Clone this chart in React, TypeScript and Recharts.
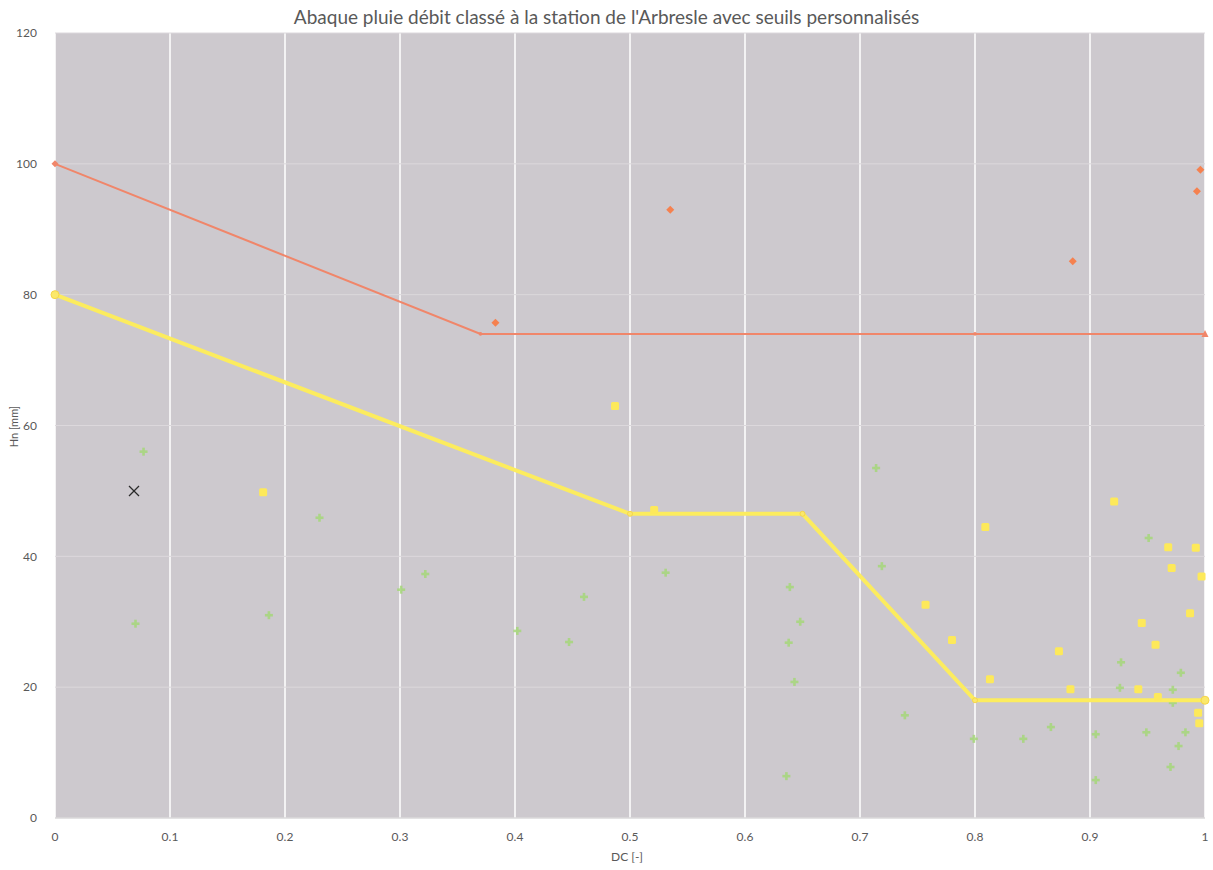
import React from "react";
import {
  ComposedChart,
  Scatter,
  XAxis,
  YAxis,
  ZAxis,
  CartesianGrid,
} from "recharts";

// axes
const dcTicks = [0, 0.1, 0.2, 0.3, 0.4, 0.5, 0.6, 0.7, 0.8, 0.9, 1];
const hnTicks = [0, 20, 40, 60, 80, 100, 120];

// seuil haut (orange)
const seuilHautDc = [0, 0.37, 0.8, 1];
const seuilHautHn = [100, 74, 74, 74];

// seuil bas (jaune)
const seuilBasDc = [0, 0.5, 0.65, 0.8, 1];
const seuilBasHn = [80, 46.5, 46.5, 18, 18];

// événements au-dessus du seuil haut
const hautDc = [0.383, 0.535, 0.885, 0.996, 0.993];
const hautHn = [75.7, 93.0, 85.1, 99.1, 95.8];

// événements entre les seuils
const moyenDc = [
  0.181, 0.487, 0.521, 0.757, 0.78, 0.809, 0.813, 0.873, 0.883, 0.921, 0.968,
  0.992, 0.971, 0.997, 0.987, 0.945, 0.957, 0.942, 0.959, 0.994, 0.995,
];
const moyenHn = [
  49.8, 63.0, 47.1, 32.6, 27.2, 44.5, 21.2, 25.5, 19.7, 48.4, 41.4, 41.3, 38.2,
  36.9, 31.3, 29.8, 26.5, 19.7, 18.5, 16.1, 14.5,
];

// événements sous le seuil bas
const basDc = [
  0.077, 0.07, 0.186, 0.23, 0.301, 0.322, 0.402, 0.447, 0.46, 0.531, 0.639,
  0.638, 0.648, 0.643, 0.636, 0.714, 0.719, 0.739, 0.799, 0.842, 0.866, 0.905,
  0.905, 0.927, 0.926, 0.951, 0.949, 0.97, 0.979, 0.972, 0.972, 0.983, 0.977,
];
const basHn = [
  56.0, 29.7, 31.0, 45.9, 34.9, 37.3, 28.6, 26.9, 33.8, 37.5, 35.3, 26.8, 30.0,
  20.8, 6.4, 53.5, 38.5, 15.7, 12.1, 12.1, 13.9, 12.8, 5.8, 23.8, 19.9, 42.8,
  13.1, 7.8, 22.2, 19.6, 17.6, 13.1, 11.0,
];

// événement étudié
const evenementDc = [0.0687];
const evenementHn = [50.0];

const toPoints = (xs: number[], ys: number[]) =>
  xs.map((x, i) => ({ x, y: ys[i] }));

const seuilHaut = toPoints(seuilHautDc, seuilHautHn);
const seuilBas = toPoints(seuilBasDc, seuilBasHn);
const haut = toPoints(hautDc, hautHn);
const moyen = toPoints(moyenDc, moyenHn);
const bas = toPoints(basDc, basHn);
const evenement = toPoints(evenementDc, evenementHn);

const FONT = "Lato, 'Open Sans', sans-serif";
const GREY = "#595959";

const HautVertex = (props: any) => {
  const { cx, cy, payload } = props;
  if (cx == null || cy == null) return null;
  if (payload.x === seuilHautDc[0]) {
    return <path d={`M${cx},${cy - 3.5} L${cx + 3.5},${cy} L${cx},${cy + 3.5} L${cx - 3.5},${cy} Z`} fill="#f0866a" />;
  }
  if (payload.x === seuilHautDc[seuilHautDc.length - 1]) {
    return <path d={`M${cx},${cy - 4} L${cx + 3.5},${cy + 3} L${cx - 3.5},${cy + 3} Z`} fill="#f0866a" />;
  }
  return <circle cx={cx} cy={cy} r={1.8} fill="#f0866a" />;
};

const BasVertex = (props: any) => {
  const { cx, cy, payload } = props;
  if (cx == null || cy == null) return null;
  const ends = payload.x === seuilBasDc[0] || payload.x === seuilBasDc[seuilBasDc.length - 1];
  return (
    <circle
      cx={cx}
      cy={cy}
      r={ends ? 4 : 2.5}
      fill="#fbe86a"
      stroke="#f5d54a"
      strokeWidth={1}
    />
  );
};

const Diamond = (props: any) => {
  const { cx, cy } = props;
  if (cx == null || cy == null) return null;
  return <path d={`M${cx},${cy - 4} L${cx + 4},${cy} L${cx},${cy + 4} L${cx - 4},${cy} Z`} fill="#f5814f" />;
};

const Square = (props: any) => {
  const { cx, cy } = props;
  if (cx == null || cy == null) return null;
  return <rect x={cx - 4} y={cy - 4} width={8} height={8} rx={1.5} fill="#fde95a" />;
};

const Plus = (props: any) => {
  const { cx, cy } = props;
  if (cx == null || cy == null) return null;
  return (
    <g fill="#a6d87a" opacity={0.85}>
      <rect x={cx - 4} y={cy - 1.3} width={8} height={2.6} />
      <rect x={cx - 1.3} y={cy - 4} width={2.6} height={8} />
    </g>
  );
};

const Cross = (props: any) => {
  const { cx, cy } = props;
  if (cx == null || cy == null) return null;
  return (
    <g stroke="#2b2b2b" strokeWidth={1.3}>
      <line x1={cx - 5} y1={cy - 5} x2={cx + 5} y2={cy + 5} />
      <line x1={cx - 5} y1={cy + 5} x2={cx + 5} y2={cy - 5} />
    </g>
  );
};

export default function App() {
  return (
    <div style={{ position: "relative", width: 1213, height: 870, background: "#fff", fontFamily: FONT }}>
      <style>{`body{margin:0}`}</style>
      <div
        style={{
          position: "absolute",
          top: 5,
          left: 0,
          width: 1213,
          textAlign: "center",
          fontSize: 19,
          color: GREY,
        }}
      >
        Abaque pluie débit classé à la station de l'Arbresle avec seuils personnalisés
      </div>
      <div
        style={{
          position: "absolute",
          left: -7,
          top: 420,
          fontSize: 11,
          color: GREY,
          transform: "rotate(-90deg)",
          whiteSpace: "nowrap",
        }}
      >
        Hn [mm]
      </div>
      <div style={{ position: "absolute", left: 611, top: 849, fontSize: 12, color: GREY }}>
        DC [-]
      </div>
      <div style={{ position: "absolute", top: 0, left: 0 }}>
        <ComposedChart
          width={1213}
          height={870}
          margin={{ top: 33, right: 8, left: 0, bottom: 22 }}
        >
          <CartesianGrid
            horizontal={false}
            vertical={true}
            stroke="#ffffff"
            strokeWidth={1.5}
            fill="#cdc9ce"
            fillOpacity={1}
          />
          <CartesianGrid horizontal={true} vertical={false} stroke="#dcd8dc" strokeWidth={1} />
          <XAxis
            type="number"
            dataKey="x"
            domain={[0, 1]}
            ticks={dcTicks}
            tickLine={false}
            axisLine={{ stroke: "#d9d9d9" }}
            tick={{ fill: GREY, fontSize: 12, fontFamily: FONT }}
            tickMargin={8}
            height={30}
          />
          <YAxis
            type="number"
            dataKey="y"
            domain={[0, 120]}
            ticks={hnTicks}
            tickLine={false}
            axisLine={false}
            tick={{ fill: GREY, fontSize: 12, fontFamily: FONT }}
            tickMargin={12}
            width={55}
          />
          <ZAxis range={[40, 40]} />
          <Scatter
            data={seuilHaut}
            line={{ stroke: "#f0866a", strokeWidth: 2 }}
            shape={HautVertex}
            isAnimationActive={false}
          />
          <Scatter
            data={bas}
            shape={Plus}
            isAnimationActive={false}
          />
          <Scatter
            data={seuilBas}
            line={{ stroke: "#fcec5e", strokeWidth: 4 }}
            shape={BasVertex}
            isAnimationActive={false}
          />
          <Scatter data={moyen} shape={Square} isAnimationActive={false} />
          <Scatter data={haut} shape={Diamond} isAnimationActive={false} />
          <Scatter data={evenement} shape={Cross} isAnimationActive={false} />
        </ComposedChart>
      </div>
    </div>
  );
}
